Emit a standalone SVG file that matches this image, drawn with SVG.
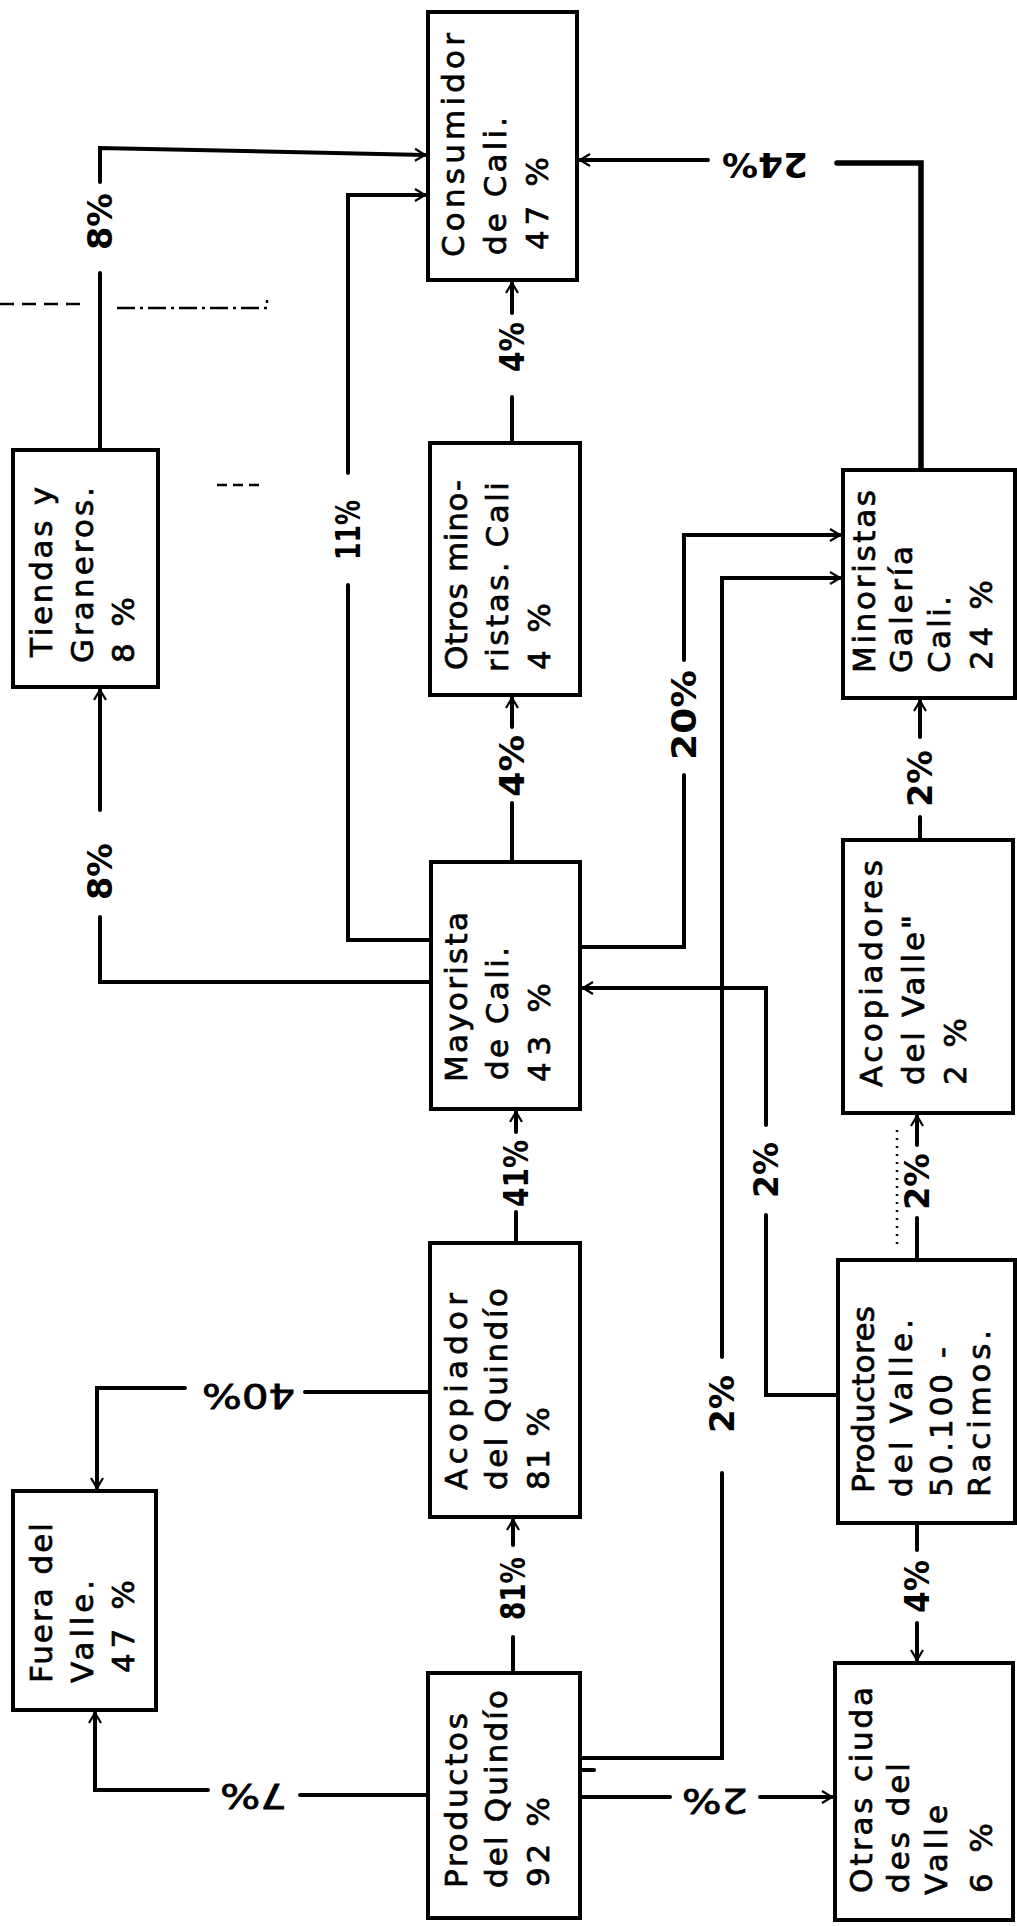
<svg xmlns="http://www.w3.org/2000/svg" width="1017" height="1926" viewBox="0 0 1017 1926">
<style>
.box{fill:#fff;stroke:#000;stroke-width:4}
.ln{fill:none;stroke:#000;stroke-width:4;stroke-linecap:round;stroke-linejoin:miter}
.thk{stroke-width:5.5}
.ds{fill:none;stroke:#000;stroke-width:2.5}
.t{font-family:"DejaVu Sans","Liberation Sans",sans-serif;font-size:31px;fill:#000;stroke:#000;stroke-width:0.7}
.lb{font-family:"DejaVu Sans","Liberation Sans",sans-serif;font-size:33px;font-weight:bold;fill:#000}
.lbn{font-family:"DejaVu Sans","Liberation Sans",sans-serif;font-size:33px;font-weight:normal;fill:#000;stroke:#000;stroke-width:0.8}
</style>
<defs>
<marker id="ah" markerWidth="16" markerHeight="16" refX="13" refY="8" orient="auto" markerUnits="userSpaceOnUse">
<path d="M3,2 L13,8 L3,14" fill="none" stroke="#000" stroke-width="2.2"/>
</marker>
</defs>
<rect width="1017" height="1926" fill="#fff"/>

<g id="connectors">
<path class="ln" d="M100,450 V273"/>
<path class="ln" d="M100,182 V148 L425,155" marker-end="url(#ah)"/>
<text class="lb" transform="translate(112,250) rotate(-90)" textLength="57" lengthAdjust="spacingAndGlyphs">8%</text>
<path class="ln" d="M431,940 H348 V585"/>
<path class="ln" d="M348,473 V195 H425" marker-end="url(#ah)"/>
<text class="lb" transform="translate(360,560) rotate(-90)" textLength="60" lengthAdjust="spacingAndGlyphs">11%</text>
<path class="ln" d="M512,443 V397"/>
<path class="ln" d="M512,313 V283" marker-end="url(#ah)"/>
<text class="lb" transform="translate(524,372) rotate(-90)" textLength="50" lengthAdjust="spacingAndGlyphs">4%</text>
<path class="ln thk" d="M921,470 V163 H837"/>
<path class="ln" d="M708,160 H580" marker-end="url(#ah)"/>
<text class="lb" transform="translate(808,153) rotate(180)" textLength="86" lengthAdjust="spacingAndGlyphs">24%</text>
<path class="ln" d="M431,982 H100 V917"/>
<path class="ln" d="M100,810 V690" marker-end="url(#ah)"/>
<text class="lb" transform="translate(112,900) rotate(-90)" textLength="57" lengthAdjust="spacingAndGlyphs">8%</text>
<path class="ln" d="M512,862 V803"/>
<path class="ln" d="M512,727 V698" marker-end="url(#ah)"/>
<text class="lb" transform="translate(524,797) rotate(-90)" textLength="62" lengthAdjust="spacingAndGlyphs">4%</text>
<path class="ln" d="M580,947 H684 V775"/>
<path class="ln" d="M684,660 V535 H840" marker-end="url(#ah)"/>
<text class="lb" transform="translate(696,760) rotate(-90)" textLength="90" lengthAdjust="spacingAndGlyphs">20%</text>
<path class="ln" d="M580,1758 H722 V1473"/>
<path class="ln" d="M722,1357 V578 H840" marker-end="url(#ah)"/>
<text class="lb" transform="translate(734,1433) rotate(-90)" textLength="58" lengthAdjust="spacingAndGlyphs">2%</text>
<path class="ln" d="M920,840 V817"/>
<path class="ln" d="M920,737 V701" marker-end="url(#ah)"/>
<text class="lb" transform="translate(932,807) rotate(-90)" textLength="57" lengthAdjust="spacingAndGlyphs">2%</text>
<path class="ln" d="M838,1395 H766 V1215"/>
<path class="ln" d="M766,1125 V988 H583" marker-end="url(#ah)"/>
<text class="lb" transform="translate(778,1198) rotate(-90)" textLength="56" lengthAdjust="spacingAndGlyphs">2%</text>
<path class="ln" d="M516,1243 V1212"/>
<path class="ln" d="M516,1132 V1112" marker-end="url(#ah)"/>
<text class="lb" transform="translate(528,1207) rotate(-90)" textLength="67" lengthAdjust="spacingAndGlyphs">41%</text>
<path class="ln" d="M917,1260 V1218"/>
<path class="ln" d="M917,1145 V1116" marker-end="url(#ah)"/>
<text class="lb" transform="translate(929,1210) rotate(-90)" textLength="57" lengthAdjust="spacingAndGlyphs">2%</text>
<path class="ln" d="M430,1392 H305"/>
<path class="ln" d="M185,1388 H97 V1488" marker-end="url(#ah)"/>
<text class="lbn" transform="translate(295,1384) rotate(180)" textLength="93" lengthAdjust="spacingAndGlyphs">40%</text>
<path class="ln" d="M428,1795 H300"/>
<path class="ln" d="M208,1790 H95 V1713" marker-end="url(#ah)"/>
<text class="lbn" transform="translate(287,1784) rotate(180)" textLength="67" lengthAdjust="spacingAndGlyphs">7%</text>
<path class="ln" d="M513,1673 V1637"/>
<path class="ln" d="M513,1545 V1520" marker-end="url(#ah)"/>
<text class="lb" transform="translate(525,1620) rotate(-90)" textLength="63" lengthAdjust="spacingAndGlyphs">81%</text>
<path class="ln" d="M580,1797 H670"/>
<path class="ln" d="M760,1797 H832" marker-end="url(#ah)"/>
<text class="lbn" transform="translate(748,1789) rotate(180)" textLength="66" lengthAdjust="spacingAndGlyphs">2%</text>
<path class="ln" d="M917,1523 V1550"/>
<path class="ln" d="M917,1623 V1660" marker-end="url(#ah)"/>
<text class="lb" transform="translate(929,1613) rotate(-90)" textLength="53" lengthAdjust="spacingAndGlyphs">4%</text>
</g>

<g id="marks">
<path class="ds" d="M0,304 H83" stroke-dasharray="14,8"/>
<path class="ds" d="M117,308 H267 V300" stroke-dasharray="18,5,3,5"/>
<path class="ds" d="M217,485 H260" stroke-dasharray="10,6"/>
<path class="ds" d="M897,1130 V1247" stroke-dasharray="2,6"/>
<path class="ln" d="M580,1770 H594" stroke-width="3"/>
</g>

<g id="consumidor">
<rect class="box" x="428" y="12" width="149" height="268"/>
<text class="t" transform="translate(464,257) rotate(-90)" textLength="224" lengthAdjust="spacing">Consumidor</text>
<text class="t" transform="translate(506,255) rotate(-90)" textLength="138" lengthAdjust="spacing">de Cali.</text>
<text class="t" transform="translate(548,250) rotate(-90)" textLength="93" lengthAdjust="spacing">47 %</text>
</g>
<g id="tiendas">
<rect class="box" x="13" y="450" width="145" height="237"/>
<text class="t" transform="translate(52,657) rotate(-90)" textLength="170" lengthAdjust="spacing">Tiendas y</text>
<text class="t" transform="translate(93,663) rotate(-90)" textLength="176" lengthAdjust="spacing">Graneros.</text>
<text class="t" transform="translate(134,663) rotate(-90)" textLength="66" lengthAdjust="spacing">8 %</text>
</g>
<g id="otros-minoristas">
<rect class="box" x="430" y="443" width="150" height="252"/>
<text class="t" transform="translate(467,670) rotate(-90)" textLength="190" lengthAdjust="spacing">Otros mino-</text>
<text class="t" transform="translate(508,672) rotate(-90)" textLength="190" lengthAdjust="spacing">ristas. Cali</text>
<text class="t" transform="translate(550,670) rotate(-90)" textLength="67" lengthAdjust="spacing">4 %</text>
</g>
<g id="minoristas-galeria">
<rect class="box" x="843" y="470" width="172" height="228"/>
<text class="t" transform="translate(875,673) rotate(-90)" textLength="183" lengthAdjust="spacing">Minoristas</text>
<text class="t" transform="translate(912,673) rotate(-90)" textLength="127" lengthAdjust="spacing">Galería</text>
<text class="t" transform="translate(950,673) rotate(-90)" textLength="77" lengthAdjust="spacing">Cali.</text>
<text class="t" transform="translate(992,670) rotate(-90)" textLength="90" lengthAdjust="spacing">24 %</text>
</g>
<g id="mayorista">
<rect class="box" x="431" y="862" width="149" height="247"/>
<text class="t" transform="translate(467,1082) rotate(-90)" textLength="170" lengthAdjust="spacing">Mayorista</text>
<text class="t" transform="translate(508,1080) rotate(-90)" textLength="133" lengthAdjust="spacing">de Cali.</text>
<text class="t" transform="translate(550,1082) rotate(-90)" textLength="99" lengthAdjust="spacing">43 %</text>
</g>
<g id="acopiadores-valle">
<rect class="box" x="843" y="840" width="170" height="273"/>
<text class="t" transform="translate(882,1087) rotate(-90)" textLength="227" lengthAdjust="spacing">Acopiadores</text>
<text class="t" transform="translate(924,1085) rotate(-90)" textLength="170" lengthAdjust="spacing">del Valle"</text>
<text class="t" transform="translate(966,1085) rotate(-90)" textLength="67" lengthAdjust="spacing">2%</text>
</g>
<g id="fuera-valle">
<rect class="box" x="13" y="1491" width="143" height="219"/>
<text class="t" transform="translate(52,1683) rotate(-90)" textLength="160" lengthAdjust="spacing">Fuera del</text>
<text class="t" transform="translate(93,1683) rotate(-90)" textLength="103" lengthAdjust="spacing">Valle.</text>
<text class="t" transform="translate(134,1673) rotate(-90)" textLength="93" lengthAdjust="spacing">47 %</text>
</g>
<g id="acopiador-quindio">
<rect class="box" x="430" y="1243" width="150" height="274"/>
<text class="t" transform="translate(467,1490) rotate(-90)" textLength="197" lengthAdjust="spacing">Acopiador</text>
<text class="t" transform="translate(507,1490) rotate(-90)" textLength="202" lengthAdjust="spacing">del Quindío</text>
<text class="t" transform="translate(549,1490) rotate(-90)" textLength="83" lengthAdjust="spacing">81 %</text>
</g>
<g id="productores-valle">
<rect class="box" x="838" y="1260" width="177" height="263"/>
<text class="t" transform="translate(874,1493) rotate(-90)" textLength="187" lengthAdjust="spacing">Productores</text>
<text class="t" transform="translate(912,1497) rotate(-90)" textLength="178" lengthAdjust="spacing">del Valle.</text>
<text class="t" transform="translate(952,1497) rotate(-90)" textLength="150" lengthAdjust="spacing">50.100 -</text>
<text class="t" transform="translate(990,1497) rotate(-90)" textLength="167" lengthAdjust="spacing">Racimos.</text>
</g>
<g id="productos-quindio">
<rect class="box" x="428" y="1673" width="152" height="245"/>
<text class="t" transform="translate(467,1888) rotate(-90)" textLength="175" lengthAdjust="spacing">Productos</text>
<text class="t" transform="translate(507,1888) rotate(-90)" textLength="198" lengthAdjust="spacing">del Quindío</text>
<text class="t" transform="translate(549,1887) rotate(-90)" textLength="90" lengthAdjust="spacing">92 %</text>
</g>
<g id="otras-ciudades">
<rect class="box" x="835" y="1663" width="178" height="257"/>
<text class="t" transform="translate(872,1893) rotate(-90)" textLength="206" lengthAdjust="spacing">Otras ciuda</text>
<text class="t" transform="translate(909,1893) rotate(-90)" textLength="130" lengthAdjust="spacing">des del</text>
<text class="t" transform="translate(947,1895) rotate(-90)" textLength="90" lengthAdjust="spacing">Valle</text>
<text class="t" transform="translate(992,1893) rotate(-90)" textLength="70" lengthAdjust="spacing">6 %</text>
</g>
</svg>
